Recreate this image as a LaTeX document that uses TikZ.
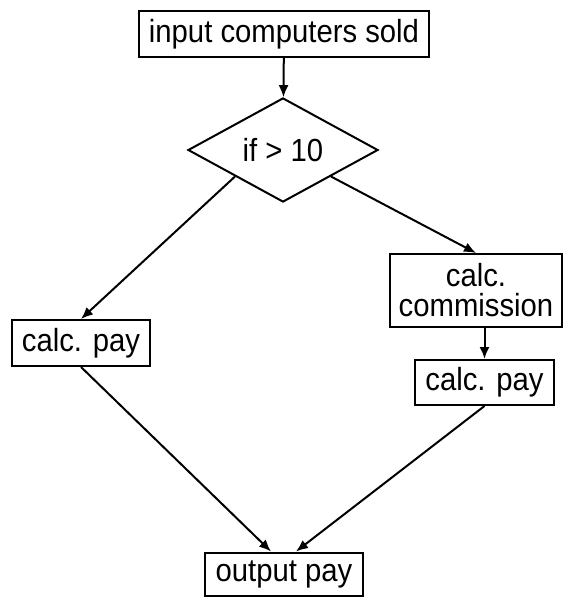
\documentclass[tikz,border=0pt]{standalone}
\usepackage{fontspec}
\setmainfont{Liberation Sans}[FakeStretch=0.915]
\usetikzlibrary{shapes.geometric,arrows.meta,calc}

\begin{document}
\begin{tikzpicture}[x=1pt,y=-1pt,line width=2pt,
    box/.style={draw,rectangle,inner xsep=10pt,inner ysep=0pt,minimum height=46pt,
        align=center,font=\fontsize{32}{30}\selectfont},
    test/.style={draw,diamond,minimum width=190pt,minimum height=87pt,inner sep=0pt,
        font=\fontsize{32}{30}\selectfont},
    flow/.style={-{Latex[length=12pt,width=10pt]}}]
    \useasboundingbox (0,0) rectangle (570,597);

    % 输入与判断
    \node[box] (input) at (284,34) {input computers sold};
    \node[test] (cond) at (283,150) {if > 10};

    % 左支
    \node[box] (payA) at (81,343) {calc. pay};

    % 右支
    \node[box,minimum height=73pt,inner xsep=9pt] (comm) at (476,290.5) {calc.\\commission};
    \node[box,minimum height=45pt] (payB) at (484.5,382.5) {calc. pay};

    % 输出
    \node[box,minimum height=43pt,inner xsep=11pt] (output) at (284,574) {output pay};

    % 连线
    \draw[flow] (input) -- (cond);
    \draw[flow] ($(cond.west)!.5!(cond.south)$) -- (payA.north);
    \draw[flow] ($(cond.east)!.5!(cond.south)$) -- (comm.north);
    \draw[flow] (comm.south -| payB.north) -- (payB.north);
    \draw[flow] (payA.south) -- ([xshift=-13pt]output.north);
    \draw[flow] (payB.south) -- ([xshift=12pt]output.north);
\end{tikzpicture}
\end{document}
